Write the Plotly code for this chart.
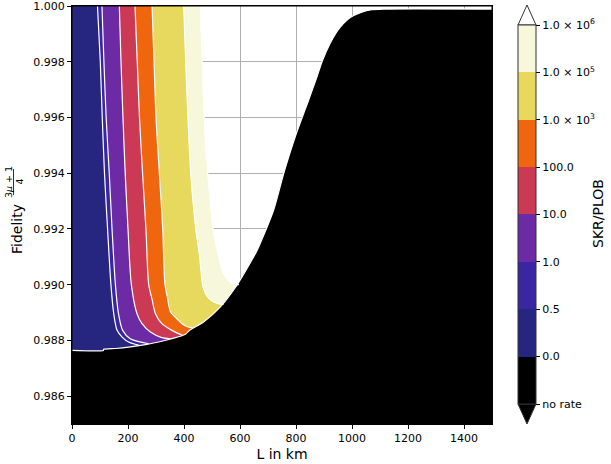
import plotly.graph_objects as go

# ---------------- data ----------------
# contour boundaries: L (km) versus Fidelity, one array pair per level
c05_L = [91, 101, 108, 116, 127, 139, 149, 161, 179, 202, 238]
c05_F = [1.000, 0.998, 0.996, 0.994, 0.992, 0.990, 0.98896, 0.98836, 0.98812, 0.98794, 0.98783]

c1_L = [107, 114, 122, 133, 143, 155, 166, 181, 208, 274]
c1_F = [1.000, 0.998, 0.996, 0.994, 0.992, 0.990, 0.98896, 0.98836, 0.98806, 0.98788]

c10_L = [169, 175, 182, 190, 200, 212, 232, 250, 280, 321, 351]
c10_F = [1.000, 0.998, 0.996, 0.994, 0.992, 0.990, 0.98896, 0.98860, 0.98830, 0.98810, 0.98806]

c100_L = [225, 233, 241, 252, 264, 274, 286, 298, 321, 357, 393]
c100_F = [1.000, 0.998, 0.996, 0.994, 0.992, 0.990, 0.98947, 0.98896, 0.98860, 0.98836, 0.98819]

c1e3_L = [286, 293, 300, 312, 324, 332, 340, 352, 372, 393, 415, 432]
c1e3_F = [1.000, 0.998, 0.996, 0.994, 0.992, 0.990, 0.98958, 0.98902, 0.98880, 0.98860, 0.98848, 0.98844]

c1e5_L = [399, 406, 414, 424, 442, 456, 468, 484, 506, 530, 541]
c1e5_F = [1.000, 0.998, 0.996, 0.994, 0.992, 0.99099, 0.98991, 0.98956, 0.98938, 0.98930, 0.98929]

c1e6_L = [458, 465, 472, 485, 504, 524, 541, 565, 583, 596]
c1e6_F = [1.000, 0.998, 0.996, 0.994, 0.992, 0.99099, 0.99040, 0.99009, 0.99001, 0.99000]

# lower edge of the region with a positive rate ("no rate" below)
norate_L = [0, 112, 113, 155, 202, 262, 321, 405, 422, 470, 530, 589, 625, 661, 720,
            756, 797, 845, 875, 893, 922, 946, 970, 994, 1030, 1065, 1113, 1500]
norate_F = [0.98764, 0.98764, 0.98768, 0.98771, 0.98776, 0.98785, 0.98797, 0.98822,
            0.98838, 0.98866, 0.98920, 0.98998, 0.99058, 0.99123, 0.99267, 0.99399,
            0.99530, 0.99662, 0.99746, 0.99800, 0.99866, 0.99908, 0.99938, 0.99959,
            0.99976, 0.99986, 0.99989, 0.99989]

level_labels = ["no rate", "0.0", "0.5", "1.0", "10.0", "100.0",
                "1.0 × 10<sup>3</sup>", "1.0 × 10<sup>5</sup>", "1.0 × 10<sup>6</sup>"]
level_colors = ["#000000", "#262680", "#3B26A2", "#6C2BA5", "#CB3954",
                "#F0660F", "#E6D95E", "#F7F7DC"]
x_ticks = [0, 200, 400, 600, 800, 1000, 1200, 1400]
y_ticks = [0.986, 0.988, 0.990, 0.992, 0.994, 0.996, 0.998, 1.000]

X_MIN, X_MAX = 0, 1500
Y_MIN, Y_MAX = 0.985, 1.000
# closing points of the fill polygons, kept well outside the visible range
FAR_TOP, FAR_BOTTOM = Y_MAX + 0.01, Y_MIN - 0.01
FAR_LEFT, FAR_RIGHT = X_MIN - 1000, X_MAX + 3000

# ---------------- layout geometry (pixels) ----------------
W, H = 611, 464
PL, PR, PT, PB = 72, 492, 6, 424


def px_x(px):
    return (px - PL) / (PR - PL)


def px_y(py):
    return (PB - py) / (PB - PT)


FONT = "DejaVu Sans"
fig = go.Figure()

# filled regions: paint from the highest level down, each one "left of" its boundary
curves = [(c1e6_L, c1e6_F, level_colors[7]),
          (c1e5_L, c1e5_F, level_colors[6]),
          (c1e3_L, c1e3_F, level_colors[5]),
          (c100_L, c100_F, level_colors[4]),
          (c10_L, c10_F, level_colors[3]),
          (c1_L, c1_F, level_colors[2]),
          (c05_L, c05_F, level_colors[1])]

SMOOTH = 0.8
for cl, cf, col in curves:
    xs = [FAR_LEFT, cl[0]] + list(cl) + [FAR_RIGHT, FAR_LEFT]
    ys = [FAR_TOP, FAR_TOP] + list(cf) + [FAR_BOTTOM, FAR_BOTTOM]
    fig.add_trace(go.Scatter(x=xs, y=ys, mode="lines", fill="toself", fillcolor=col,
                             line=dict(width=0, color=col, shape="spline",
                                       smoothing=SMOOTH),
                             hoverinfo="skip", showlegend=False))

# no-rate region
fig.add_trace(go.Scatter(
    x=[FAR_LEFT] + list(norate_L) + [FAR_RIGHT, FAR_RIGHT, FAR_LEFT],
    y=[norate_F[0]] + list(norate_F) + [norate_F[-1], FAR_BOTTOM, FAR_BOTTOM],
    mode="lines", fill="toself", fillcolor="#000000",
    line=dict(width=0, color="#000000", shape="spline", smoothing=0.6),
    hoverinfo="skip", showlegend=False))

# white contour lines
for cl, cf, col in curves:
    fig.add_trace(go.Scatter(x=cl, y=cf, mode="lines",
                             line=dict(color="white", width=1.2, shape="spline",
                                       smoothing=SMOOTH),
                             hoverinfo="skip", showlegend=False))
fig.add_trace(go.Scatter(x=norate_L, y=norate_F, mode="lines",
                         line=dict(color="white", width=1.2, shape="spline",
                                   smoothing=0.6),
                         hoverinfo="skip", showlegend=False))

# colorbar (discrete)
n = len(level_colors)
cscale = []
for i, c in enumerate(level_colors):
    cscale.append([i / n, c])
    cscale.append([(i + 1) / n, c])

fig.add_trace(go.Scatter(
    x=[None], y=[None], mode="markers", showlegend=False, hoverinfo="skip",
    marker=dict(color=[0], cmin=0, cmax=n, colorscale=cscale, showscale=True,
                colorbar=dict(
                    x=px_x(518), xanchor="left", xpad=0, ypad=0,
                    y=px_y(214.5), yanchor="middle",
                    len=(404 - 25) / (PB - PT), lenmode="fraction",
                    thickness=18, thicknessmode="pixels",
                    tickmode="array", tickvals=list(range(n + 1)),
                    ticktext=level_labels, ticks="outside", ticklen=4,
                    tickwidth=1, tickcolor="black",
                    tickfont=dict(family=FONT, size=11, color="black"),
                    outlinewidth=1, outlinecolor="#333333"))))

shapes = []
# frame of the plotting area
shapes.append(dict(type="rect", xref="paper", yref="paper", x0=0, x1=1, y0=0, y1=1,
                   line=dict(color="black", width=1), layer="above"))
# extend triangles of the colorbar
xl, xr, xm = px_x(518), px_x(536), px_x(527)
shapes.append(dict(type="path", xref="paper", yref="paper",
                   path=f"M {xl},{px_y(25)} L {xr},{px_y(25)} L {xm},{px_y(5)} Z",
                   fillcolor="white", line=dict(color="#333333", width=1)))
shapes.append(dict(type="path", xref="paper", yref="paper",
                   path=f"M {xl},{px_y(404)} L {xr},{px_y(404)} L {xm},{px_y(424)} Z",
                   fillcolor="black", line=dict(color="#333333", width=1)))
# fraction bar of the y label
shapes.append(dict(type="line", xref="paper", yref="paper",
                   x0=px_x(13.5), x1=px_x(13.5), y0=px_y(169), y1=px_y(195),
                   line=dict(color="black", width=0.8)))

annotations = [
    dict(text="Fidelity", xref="paper", yref="paper", x=px_x(17), y=px_y(229),
         textangle=-90, showarrow=False, xanchor="center", yanchor="middle",
         font=dict(family=FONT, size=14, color="black")),
    dict(text="3<i>μ</i> + 1", xref="paper", yref="paper", x=px_x(8), y=px_y(182),
         textangle=-90, showarrow=False, xanchor="center", yanchor="middle",
         font=dict(family=FONT, size=9.5, color="black")),
    dict(text="4", xref="paper", yref="paper", x=px_x(18.5), y=px_y(182),
         textangle=-90, showarrow=False, xanchor="center", yanchor="middle",
         font=dict(family=FONT, size=9.5, color="black")),
    dict(text="SKR/PLOB", xref="paper", yref="paper", x=px_x(598), y=px_y(214),
         textangle=-90, showarrow=False, xanchor="center", yanchor="middle",
         font=dict(family=FONT, size=14, color="black")),
]

axis_common = dict(showline=True, linecolor="black", linewidth=1, mirror=True,
                   ticks="outside", ticklen=4, tickwidth=1, tickcolor="black",
                   showgrid=True, gridcolor="#b0b0b0", gridwidth=1,
                   zeroline=False, layer="above traces", automargin=False,
                   ticklabeloverflow="allow",
                   tickfont=dict(family=FONT, size=11, color="black"))

fig.update_layout(
    width=W, height=H,
    margin=dict(l=PL, r=W - PR, t=PT, b=H - PB, pad=0, autoexpand=False),
    paper_bgcolor="white", plot_bgcolor="white",
    font=dict(family=FONT, color="black"),
    xaxis=dict(range=[X_MIN, X_MAX], tickmode="array", tickvals=x_ticks,
               title=dict(text="L in km", standoff=4,
                          font=dict(family=FONT, size=14, color="black")),
               **axis_common),
    yaxis=dict(range=[Y_MIN, Y_MAX], tickmode="array", tickvals=y_ticks,
               tickformat=".3f", **axis_common),
    shapes=shapes, annotations=annotations,
)

fig.write_html("out.html", config={"displayModeBar": False},
               post_script="document.body.style.margin='0';"
                           "document.body.style.overflow='hidden';")
